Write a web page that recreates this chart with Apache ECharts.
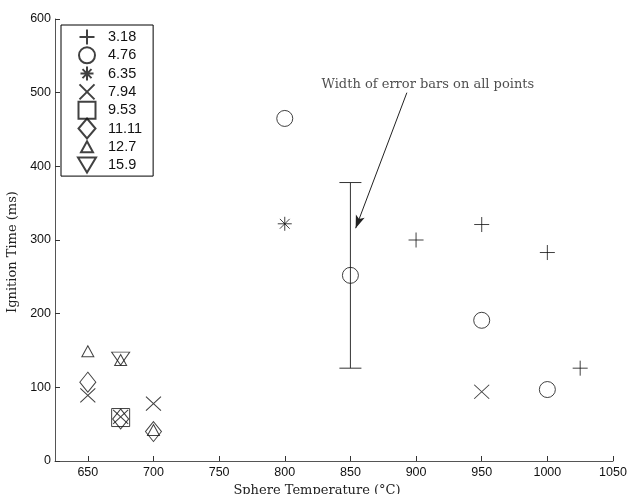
<!DOCTYPE html>
<html><head><meta charset="utf-8">
<script src="https://cdn.jsdelivr.net/npm/echarts@6/dist/echarts.min.js"></script>
<style>html,body{margin:0;padding:0;background:#fff}#c{width:630px;height:494px}</style>
</head><body><div id="c"></div>
<script>
// ---- data ----
const seriesNames = ['3.18','4.76','6.35','7.94','9.53','11.11','12.7','15.9'];
const s318  = [[900,300],[950,321],[1000,283],[1025,126]];
const s476  = [[800,465],[850,252],[950,191],[1000,97]];
const s635  = [[800,322]];
const s794  = [[650,89],[675,60],[700,78],[950,94]];
const s953  = [[675,59]];
const s1111 = [[650,107],[675,57],[700,40]];
const s127  = [[650,149],[675,137],[700,42]];
const s159  = [[675,139]];
const errorBar = [[850,126,378]];
const xTicks = [650,700,750,800,850,900,950,1000,1050];
const annotText = 'Width of error bars on all points';
const annotPos = [[909,511]];
const arrowFrom = [893,500];
const arrowTo = [854,316];

// ---- styles ----
const ink = '#111';
const sym = {
  plus: 'path://M0,5L10,5M5,0L5,10',
  circle: 'circle',
  star: 'path://M0,5L10,5M5,0L5,10M1.5,1.5L8.5,8.5M8.5,1.5L1.5,8.5',
  cross: 'path://M0,0L10,10M10,0L0,10',
  square: 'path://M0,0L10,0L10,10L0,10Z',
  diamond: 'path://M4,0L8,5L4,10L0,5Z',
  tri: 'path://M6,0L12,11L0,11Z',
  tridown: 'path://M0,0L18,0L9,15Z'
};
// legend icons drawn in a fixed 20x20 box (phantom corners keep relative sizes)
const box = 'path://M0,0M20,20';
const legendIcons = [
  box + 'M2.5,10L17.5,10M10,2.5L10,17.5',
  box + 'M2,10A8,8 0 1,1 18,10A8,8 0 1,1 2,10Z',
  box + 'M3.5,10L16.5,10M10,3L10,17M5.5,5.5L14.5,14.5M14.5,5.5L5.5,14.5',
  box + 'M2.5,2.5L17.5,17.5M17.5,2.5L2.5,17.5',
  box + 'M1.5,1.5L18.5,1.5L18.5,18.5L1.5,18.5Z',
  box + 'M10,0L18.5,10L10,20L1.5,10Z',
  box + 'M10,4.5L16,15.5L4,15.5Z',
  box + 'M1,2.5L19,2.5L10,17.5Z'
];
const specs = [
  [s318, sym.plus, [15,15]],
  [s476, sym.circle, 16],
  [s635, sym.star, [14,14]],
  [s794, sym.cross, [15,14]],
  [s953, sym.square, 18],
  [s1111, sym.diamond, [16,20]],
  [s127, sym.tri, [12,11]],
  [s159, sym.tridown, [18,13]]
];
const series = specs.map((sp, i) => ({
  name: seriesNames[i], type: 'scatter', data: sp[0], symbol: sp[1], symbolSize: sp[2],
  itemStyle: { color: 'rgba(0,0,0,0)', borderColor: ink, borderWidth: 1 },
  emphasis: { disabled: true }, z: 3
}));
series.push({
  type: 'custom', name: 'err', data: errorBar, z: 2,
  renderItem: function (params, api) {
    const lo = api.coord([api.value(0), api.value(1)]);
    const hi = api.coord([api.value(0), api.value(2)]);
    const w = 11;
    const st = { stroke: '#333', lineWidth: 1 };
    return { type: 'group', children: [
      { type: 'line', shape: { x1: lo[0], y1: lo[1], x2: hi[0], y2: hi[1] }, style: st },
      { type: 'line', shape: { x1: lo[0]-w, y1: lo[1], x2: lo[0]+w, y2: lo[1] }, style: st },
      { type: 'line', shape: { x1: hi[0]-w, y1: hi[1], x2: hi[0]+w, y2: hi[1] }, style: st }
    ]};
  }
});
series.push({
  type: 'scatter', name: 'annot', data: annotPos, symbolSize: 0, silent: true,
  label: { show: true, position: 'inside', formatter: annotText, color: '#222',
    fontFamily: 'DejaVu Serif', fontSize: 13 },
  markLine: {
    silent: true, symbol: ['none', 'arrow'], symbolSize: [7, 13],
    lineStyle: { color: '#222', width: 1, type: 'solid' },
    label: { show: false },
    data: [[{ coord: arrowFrom }, { coord: arrowTo }]]
  }
});

const chart = echarts.init(document.getElementById('c'), null, { renderer: 'canvas' });
chart.setOption({
  animation: false,
  backgroundColor: '#fff',
  grid: { left: 55, right: 17, top: 19, bottom: 33, containLabel: false, outerBoundsMode: 'none' },
  legend: {
    data: seriesNames.map((n, i) => ({ name: n, icon: legendIcons[i] })),
    orient: 'vertical', left: 61, top: 25,
    itemWidth: 20, itemHeight: 20, itemGap: -3.7,
    padding: [1, 11, 0, 15],
    borderColor: '#000', borderWidth: 1, backgroundColor: '#fff',
    textStyle: { fontFamily: 'Liberation Sans', fontSize: 14.5, color: '#111',
      lineHeight: 16, padding: [0, 0, 0, 6] },
    selectedMode: false
  },
  xAxis: {
    type: 'value', min: 625, max: 1050,
    name: 'Sphere Temperature (°C)', nameLocation: 'middle', nameGap: 23,
    nameTextStyle: { fontFamily: 'DejaVu Serif', fontSize: 13, color: '#222', padding: [0, 34, 0, 0] },
    axisLine: { lineStyle: { color: '#555' } },
    axisTick: { show: true, inside: true, length: 5, customValues: xTicks, lineStyle: { color: '#333' } },
    axisLabel: { customValues: xTicks, formatter: v => String(v),
      fontFamily: 'Liberation Sans', fontSize: 12.5, color: '#111', margin: 5 },
    splitLine: { show: false }
  },
  yAxis: {
    type: 'value', min: 0, max: 600, interval: 100,
    name: 'Ignition Time (ms)', nameLocation: 'middle', nameGap: 27,
    nameTextStyle: { fontFamily: 'DejaVu Serif', fontSize: 13, color: '#222', padding: [0, 24, 0, 0] },
    axisLine: { show: true, lineStyle: { color: '#555' } },
    axisTick: { show: true, inside: true, length: 5, lineStyle: { color: '#333' } },
    axisLabel: { fontFamily: 'Liberation Sans', fontSize: 12.5, color: '#111', margin: 4 },
    splitLine: { show: false }
  },
  series: series
});
</script></body></html>
